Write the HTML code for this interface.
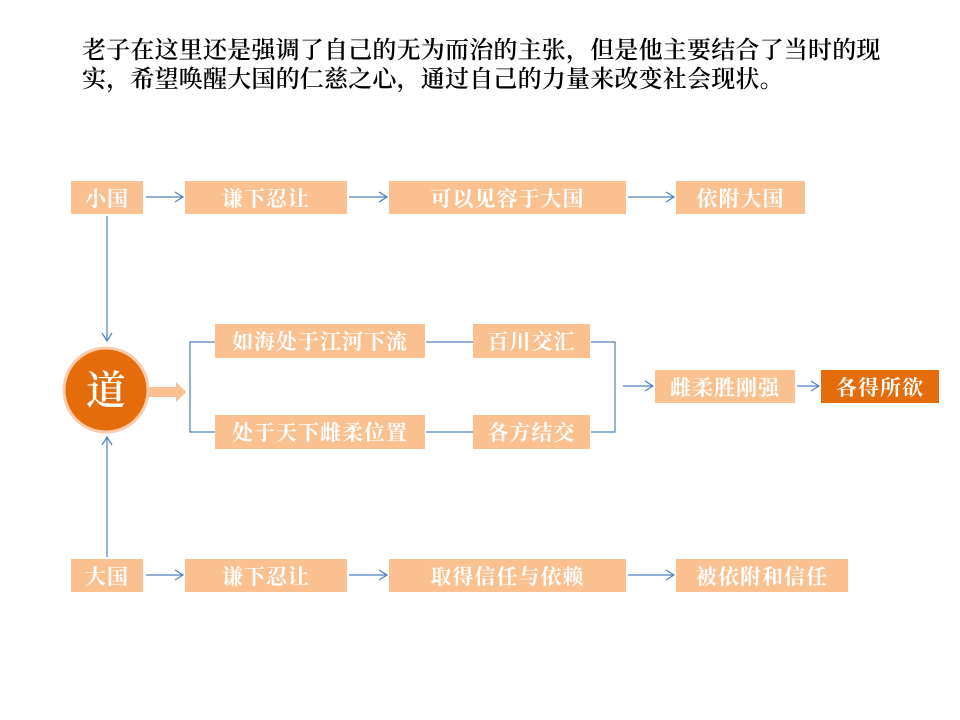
<!DOCTYPE html>
<html><head><meta charset="utf-8"><style>
body{margin:0;width:960px;height:720px;background:#fff;position:relative;overflow:hidden}
.t{position:absolute;left:82px;top:37px;font:600 24px/29px "Liberation Serif","Noto Serif CJK SC",serif;color:#000;white-space:nowrap;letter-spacing:0.2px}
.b{position:absolute;background:#FAC090;color:#fff;font:bold 21px "Liberation Serif","Noto Serif CJK SC",serif;display:flex;align-items:center;justify-content:center;letter-spacing:1px}
.d{background:#E46C0A}
svg{position:absolute;left:0;top:0}
</style></head><body>
<div class="t">老子在这里还是强调了自己的无为而治的主张，但是他主要结合了当时的现<br>实，希望唤醒大国的仁慈之心，通过自己的力量来改变社会现状。</div>
<svg width="960" height="720">
<g stroke="#4F81BD" stroke-width="1.2" fill="none">
<path d="M146 197H182M175 192L183 197L175 202"/>
<path d="M349 197H386M379 192L387 197L379 202"/>
<path d="M628 197H673M666 192L674 197L666 202"/>
<path d="M146 575H182M175 570L183 575L175 580"/>
<path d="M349 575H386M379 570L387 575L379 580"/>
<path d="M628 575H673M666 570L674 575L666 580"/>
<path d="M107 216V340M102 333L107 341L112 333"/>
<path d="M107 557V438M102 445L107 437L112 445"/>
<path d="M215 342H190V432H215"/>
<path d="M426 342H473M426 432H473"/>
<path d="M591 342H615V432H591"/>
<path d="M623 386H652M645 381L653 386L645 391"/>
<path d="M797 386H818M811 381L819 386L811 391"/>
</g>
<path d="M145 387H176V382L186 392L176 402V397H145Z" fill="#FAC090"/>
<circle cx="106" cy="390" r="42" fill="#E46C0A" stroke="#F8CBAD" stroke-width="3"/>
<text x="106" y="404" text-anchor="middle" font-size="40" font-weight="600" fill="#fff" font-family="Liberation Serif,Noto Serif CJK SC,serif">道</text>
</svg>
<div class="b" style="left:71px;top:181px;width:72px;height:33px">小国</div>
<div class="b" style="left:185px;top:181px;width:162px;height:33px">谦下忍让</div>
<div class="b" style="left:389px;top:181px;width:237px;height:33px">可以见容于大国</div>
<div class="b" style="left:676px;top:181px;width:129px;height:33px">依附大国</div>
<div class="b" style="left:215px;top:324px;width:210px;height:34px">如海处于江河下流</div>
<div class="b" style="left:473px;top:324px;width:117px;height:34px">百川交汇</div>
<div class="b" style="left:215px;top:415px;width:210px;height:34px">处于天下雌柔位置</div>
<div class="b" style="left:473px;top:415px;width:117px;height:34px">各方结交</div>
<div class="b" style="left:655px;top:370px;width:140px;height:33px">雌柔胜刚强</div>
<div class="b d" style="left:821px;top:370px;width:118px;height:33px">各得所欲</div>
<div class="b" style="left:71px;top:559px;width:72px;height:33px">大国</div>
<div class="b" style="left:185px;top:559px;width:162px;height:33px">谦下忍让</div>
<div class="b" style="left:389px;top:559px;width:237px;height:33px">取得信任与依赖</div>
<div class="b" style="left:676px;top:559px;width:172px;height:33px">被依附和信任</div>
</body></html>
